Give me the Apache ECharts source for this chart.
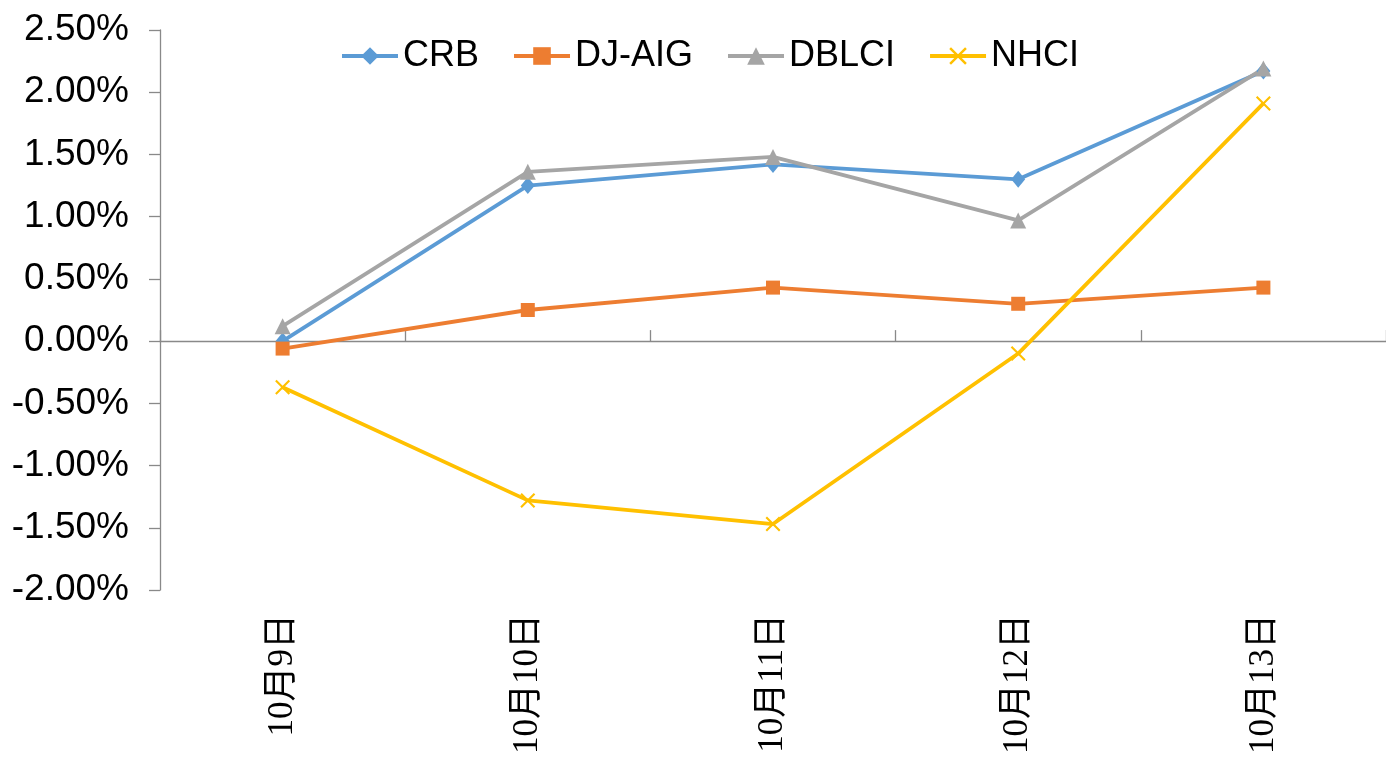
<!DOCTYPE html>
<html>
<head>
<meta charset="utf-8">
<script src="https://cdn.jsdelivr.net/npm/echarts@6/dist/echarts.min.js"></script>
<style>
    html, body { margin: 0; padding: 0; background: #fff; }
    #chart { width: 1386px; height: 758px; }
</style>
</head>
<body>
<div id="chart"></div>
<script>
// 日期分类
var days = ['10月9日', '10月10日', '10月11日', '10月12日', '10月13日'];
// 各指数日涨跌幅（%）
var crb = [0.00, 1.25, 1.42, 1.30, 2.17];
var djaig = [-0.06, 0.25, 0.43, 0.30, 0.43];
var dblci = [0.12, 1.36, 1.48, 0.97, 2.19];
var nhci = [-0.37, -1.28, -1.47, -0.10, 1.91];
var seriesNames = ['CRB', 'DJ-AIG', 'DBLCI', 'NHCI'];

var axisGray = '#898989';
var crossPath = 'path://M0,1L1,0L5,4L9,0L10,1L6,5L10,9L9,10L5,6L1,10L0,9L4,5Z';

var chart = echarts.init(document.getElementById('chart'));
var option = {
    backgroundColor: '#fff',
    animation: false,
    color: ['#5B9BD5', '#ED7D31', '#A5A5A5', '#FFC000'],
    legend: {
        data: seriesNames,
        left: 335,
        top: 33,
        itemWidth: 56,
        itemHeight: 22,
        itemGap: 33,
        lineStyle: { width: 4 },
        textStyle: {
            fontFamily: 'Liberation Sans, Arial',
            fontSize: 36,
            color: '#000'
        }
    },
    grid: {
        left: 160,
        right: 0,
        top: 30,
        bottom: 168,
        containLabel: false
    },
    xAxis: [{
        // 零线上的轴线和刻度
        type: 'category',
        data: days,
        boundaryGap: true,
        axisLine: {
            onZero: true,
            lineStyle: { color: axisGray, width: 1.3 }
        },
        axisTick: {
            show: true,
            inside: true,
            interval: 0,
            length: 11,
            lineStyle: { color: axisGray, width: 1.3 }
        },
        axisLabel: { show: true, interval: 0, color: 'rgba(0,0,0,0)' },
        splitLine: { show: false }
    }, {
        // 底部的日期标签
        type: 'category',
        data: days,
        position: 'bottom',
        boundaryGap: true,
        axisLine: { show: false, onZero: false },
        axisTick: { show: false },
        axisLabel: {
            rotate: 90,
            interval: 0,
            margin: 24,
            fontFamily: 'Liberation Serif, Noto Sans CJK SC',
            fontSize: 35,
            color: '#000'
        },
        splitLine: { show: false }
    }],
    yAxis: {
        type: 'value',
        min: -2,
        max: 2.5,
        interval: 0.5,
        axisLine: {
            show: true,
            lineStyle: { color: axisGray, width: 1.3 }
        },
        axisTick: {
            show: true,
            length: 11,
            lineStyle: { color: axisGray, width: 1.3 }
        },
        axisLabel: {
            margin: 31,
            fontFamily: 'Liberation Sans, Arial',
            fontSize: 37,
            color: '#000',
            formatter: function (v) {
                return v.toFixed(2) + '%';
            }
        },
        splitLine: { show: false }
    },
    series: [{
        name: 'CRB',
        type: 'line',
        data: crb,
        symbol: 'diamond',
        symbolSize: [14, 17],
        lineStyle: { width: 3.8 }
    }, {
        name: 'DJ-AIG',
        type: 'line',
        data: djaig,
        symbol: 'rect',
        symbolSize: 14,
        lineStyle: { width: 3.8 }
    }, {
        name: 'DBLCI',
        type: 'line',
        data: dblci,
        symbol: 'triangle',
        symbolSize: 16,
        lineStyle: { width: 3.8 }
    }, {
        name: 'NHCI',
        type: 'line',
        data: nhci,
        symbol: crossPath,
        symbolSize: 15,
        lineStyle: { width: 3.8 }
    }]
};
chart.setOption(option);
</script>
</body>
</html>
